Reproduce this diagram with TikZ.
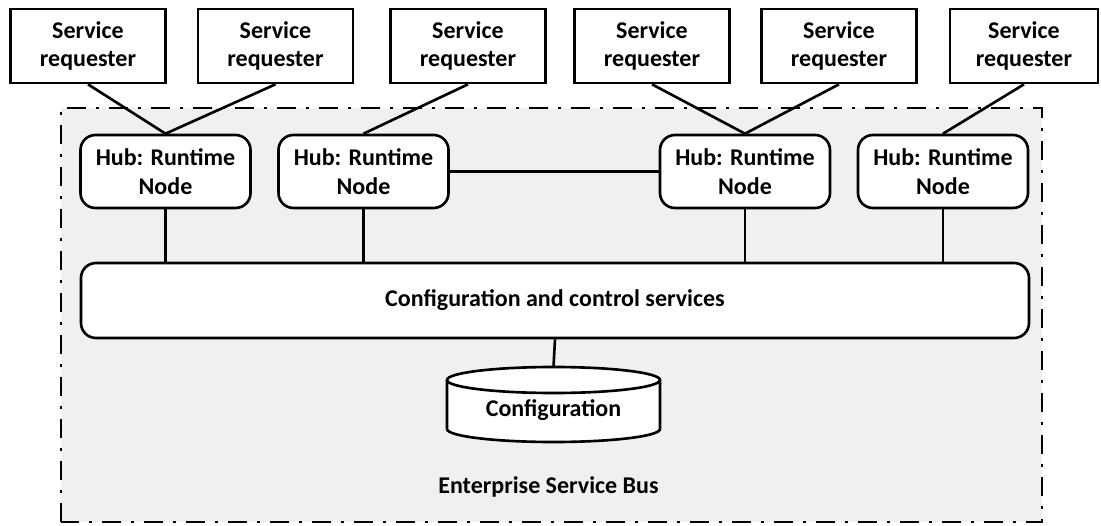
\documentclass[tikz,border=0pt]{standalone}
\usepackage{fontspec}
\setmainfont{Carlito}
\definecolor{busgray}{HTML}{F0F0F0}

\begin{document}
\begin{tikzpicture}[
		line/.style={line width=1.5pt},
		txt/.style={font=\fontsize{13.66pt}{16.4pt}\selectfont\bfseries, align=center},
		requester/.style={txt, line, draw, fill=white, minimum width=3.1cm, minimum height=1.48cm, inner sep=0pt},
		hub/.style={txt, line, draw, fill=white, rounded corners=0.3cm, minimum width=3.4cm, minimum height=1.46cm, inner sep=0pt}
	]
		\useasboundingbox (0,0) rectangle (22.02,10.5);
		\draw[line, fill=busgray, dash pattern=on 0.38cm off 0.2cm on 0.06cm off 0.2cm] (1.22,0.06) rectangle (20.84,8.34);
		\node[requester] (sr1) at (1.76,9.58) {Service\\requester};
		\node[requester] (sr2) at (5.51,9.58) {Service\\requester};
		\node[requester] (sr3) at (9.36,9.58) {Service\\requester};
		\node[requester] (sr4) at (13.04,9.58) {Service\\requester};
		\node[requester] (sr5) at (16.78,9.58) {Service\\requester};
		\node[requester, minimum width=2.96cm] (sr6) at (20.48,9.58) {Service\\requester};
		\node[hub] (hub1) at (3.31,7.07) {Hub: Runtime\\Node};
		\node[hub] (hub2) at (7.27,7.07) {Hub: Runtime\\Node};
		\node[hub] (hub3) at (14.90,7.07) {Hub: Runtime\\Node};
		\node[hub] (hub4) at (18.86,7.07) {Hub: Runtime\\Node};
		\node[txt, line, draw, fill=white, rounded corners=0.3cm, minimum width=18.96cm, minimum height=1.5cm] (ctrl) at (11.10,4.49) {Configuration and control services};
		% configuration store
		\coordinate (dbtop) at (11.07,3.16);
		\filldraw[line, fill=white] (8.94,2.90) arc[start angle=180, end angle=0, x radius=2.13, y radius=0.26] -- (13.20,1.92) arc[start angle=0, end angle=-180, x radius=2.13, y radius=0.26] -- cycle;
		\draw[line] (8.94,2.90) arc[start angle=180, end angle=360, x radius=2.13, y radius=0.26];
		\node[txt] (db) at (11.07,2.30) {Configuration};
		\node[txt] (esb) at (10.97,0.76) {Enterprise Service Bus};
		\draw[line] (sr1.south) -- (hub1.north);
		\draw[line] (sr2.south) -- (hub1.north);
		\draw[line] (sr3.south) -- (hub2.north);
		\draw[line] (sr4.south) -- (hub3.north);
		\draw[line] (sr5.south) -- (hub3.north);
		\draw[line] (sr6.south) -- (hub4.north);
		\draw[line] (hub2.east) -- (hub3.west);
		\foreach \h in {hub1,hub2,hub3,hub4}
			\draw[line] (\h.south) -- (\h.south |- ctrl.north);
		\draw[line] (ctrl.south) -- (dbtop);
	\end{tikzpicture}
\end{document}
